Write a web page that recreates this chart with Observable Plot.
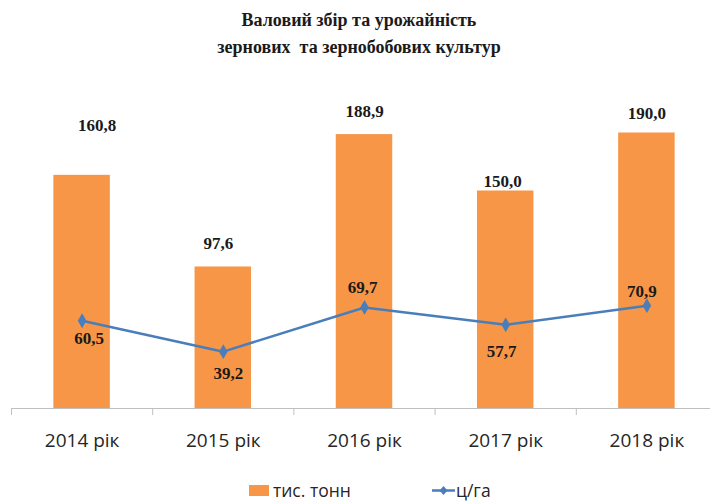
<!DOCTYPE html>
<html>
<head>
<meta charset="utf-8">
<script src="https://cdn.jsdelivr.net/npm/d3@7"></script>
<script src="https://cdn.jsdelivr.net/npm/@observablehq/plot@0.6"></script>
<style>
  body { margin: 0; background: #fff; width: 710px; height: 502px; overflow: hidden; position: relative; }
  #title { font-family: "Liberation Serif", "Times New Roman", serif; font-weight: bold; font-size: 18px;
           line-height: 27px; text-align: center; padding: 7px 0 0 8px; box-sizing: border-box;
           white-space: pre; color: #1a1a1a; height: 61px; }
  #chart { height: 399px; }
  #legend { position: absolute; left: 0; top: 479px; width: 710px; height: 22px;
            font-family: "Open Sans", sans-serif; font-size: 17.5px; line-height: 22px; color: #262626; }
  #legend .sw { position: absolute; left: 249px; top: 6px; width: 20px; height: 11px; background: #F79646; }
  #legend .t1 { position: absolute; left: 273px; top: 0; }
  #legend .ln { position: absolute; left: 432px; top: 0; width: 23px; height: 22px; }
  #legend .t2 { position: absolute; left: 456px; top: 0; }
</style>
</head>
<body>
<div id="title">Валовий збір та урожайність
зернових  та зернобобових культур</div>
<div id="chart"></div>
<div id="legend">
  <span class="sw"></span><span class="t1">тис. тонн</span>
  <svg class="ln" viewBox="0 0 23 22"><line x1="0" y1="11.5" x2="23" y2="11.5" stroke="#4A7EBB" stroke-width="2.5"/><path d="M11.5 7 L15.5 11.5 L11.5 16 L7.5 11.5 Z" fill="#4A7EBB"/></svg>
  <span class="t2">ц/га</span>
</div>
<script>
// ---- data ----
const years = [2014, 2015, 2016, 2017, 2018];
const grossHarvest = [160.8, 97.6, 188.9, 150.0, 190.0];   // тис. тонн
const cropYield = [60.5, 39.2, 69.7, 57.7, 70.9];           // ц/га
const yearSuffix = " рік";

const data = years.map((year, i) => ({ year, tons: grossHarvest[i], yld: cropYield[i] }));
const fmt = v => v.toFixed(1).replace(".", ",");

// label nudges (px), like manually positioned labels in the source
const barLabelNudge = [[15, -50], [-5, -23], [0, -23], [-3, -9], [0, -19]];
const lineLabelNudge = [[7, 18], [5, 22], [-2, -20], [-4, 27], [-5, -14]];

const labelFont = { fontFamily: "Liberation Serif, Times New Roman, serif", fontWeight: "bold", fontSize: 17, fill: "#1a1a1a" };

const plot = Plot.plot({
  width: 710,
  height: 399,
  marginTop: 57,
  marginBottom: 52,
  marginLeft: 11,
  marginRight: 0,
  style: { fontFamily: "Open Sans, sans-serif", fontSize: "19px", background: "transparent" },
  x: { type: "linear", domain: [years[0] - 0.5, years[years.length - 1] + 0.5], range: [11, 717], label: null },
  y: { domain: [0, 200], axis: null, label: null },
  marks: [
    Plot.rectY(data, { x1: d => d.year - 0.2, x2: d => d.year + 0.2, y: "tons", fill: "#F79646" }),
    Plot.ruleY([0], { stroke: "#bfbfbf", strokeWidth: 1.2 }),
    Plot.axisX({ ticks: years.map(y => y - 0.5).concat([years[years.length - 1] + 0.5]), tickSize: 7, tickFormat: () => "", stroke: "#bfbfbf", label: null }),
    Plot.axisX({ ticks: years, tickSize: 0, tickPadding: 25, tickFormat: d => `${d}${yearSuffix}`, fill: "#262626", label: null }),
    Plot.line(data, { x: "year", y: "yld", stroke: "#4A7EBB", strokeWidth: 2.5 }),
    Plot.dot(data, { x: "year", y: "yld", symbol: "diamond", r: 4.5, fill: "#4A7EBB", stroke: "none" }),
    ...data.map((d, i) => Plot.text([d], { x: "year", y: "tons", text: d => fmt(d.tons),
      dx: barLabelNudge[i][0], dy: barLabelNudge[i][1], ...labelFont })),
    ...data.map((d, i) => Plot.text([d], { x: "year", y: "yld", text: d => fmt(d.yld),
      dx: lineLabelNudge[i][0], dy: lineLabelNudge[i][1], ...labelFont }))
  ]
});
document.getElementById("chart").appendChild(plot);
</script>
</body>
</html>
